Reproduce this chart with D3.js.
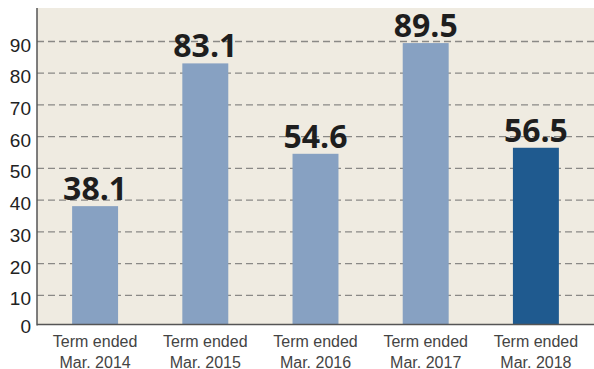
<!DOCTYPE html>
<html><head><meta charset="utf-8">
<script src="https://cdn.jsdelivr.net/npm/d3@7"></script>
<style>html,body{margin:0;padding:0;background:#fff;}svg{display:block;}</style>
</head><body>
<svg id="c" width="594" height="369"></svg>
<script>
const categories = ["Term ended\nMar. 2014","Term ended\nMar. 2015","Term ended\nMar. 2016","Term ended\nMar. 2017","Term ended\nMar. 2018"];
const values = [38.1, 83.1, 54.6, 89.5, 56.5];
const highlight = [false, false, false, false, true];
const yTicks = [0,10,20,30,40,50,60,70,80,90];

(function(){
const svg = d3.select("#c");
const W = 594, H = 369;
const mLeft = 37, mTop = 8, mBottom = 324.5;

svg.append("rect").attr("x", mLeft).attr("y", mTop).attr("width", W-mLeft).attr("height", mBottom-mTop).attr("fill", "#efebe1");

const y = d3.scaleLinear().domain([0, 90]).range([327, 41.5]);
const x = d3.scaleBand().domain(categories).range([40, 591]).paddingInner(0.583).paddingOuter(0.2915);

// grid
svg.append("g").selectAll("line").data(yTicks.filter(d=>d>0)).join("line")
  .attr("x1", mLeft).attr("x2", W).attr("y1", d=>y(d)).attr("y2", d=>y(d))
  .attr("stroke", "#8a8986").attr("stroke-width", 1.3).attr("stroke-dasharray", "7,4");

// y axis
const ya = d3.axisLeft(y).tickValues(yTicks).tickSize(0).tickPadding(6);
const yg = svg.append("g").attr("transform", `translate(${mLeft},0)`).call(ya);
yg.select(".domain").remove();
yg.selectAll("text").attr("font-family", "Liberation Sans, Arial, sans-serif").attr("font-size", 19).attr("fill", "#222").attr("dy", "0.5em");
yg.selectAll(".tick").filter(d=>d===0).select("text").attr("dy", "0.3em");

// bars
svg.append("g").selectAll("rect").data(values).join("rect")
  .attr("x", (d,i)=>x(categories[i])).attr("width", x.bandwidth())
  .attr("y", d=>y(d)).attr("height", d=>mBottom - y(d))
  .attr("fill", (d,i)=>highlight[i] ? "#1f5a8f" : "#87a1c2");

// value labels
svg.append("g").selectAll("text").data(values).join("text")
  .attr("x", (d,i)=>x(categories[i]) + x.bandwidth()/2).attr("y", d=>y(d) - 6)
  .attr("text-anchor", "middle").attr("font-family", "Open Sans, sans-serif").attr("font-weight", 700)
  .attr("font-size", 32).attr("fill", "#1e1e1e").text(d=>d.toFixed(1));

// axes lines
svg.append("line").attr("x1", mLeft).attr("x2", mLeft).attr("y1", mTop).attr("y2", mBottom+1).attr("stroke", "#555").attr("stroke-width", 1.5);
svg.append("line").attr("x1", mLeft).attr("x2", W).attr("y1", mBottom).attr("y2", mBottom).attr("stroke", "#555").attr("stroke-width", 1.5);

// x labels
const xa = d3.axisBottom(x).tickSize(0).tickPadding(0);
const xg = svg.append("g").attr("transform", `translate(0,${mBottom})`).call(xa);
xg.select(".domain").remove();
xg.selectAll("text").each(function(d){
  const t = d3.select(this); t.text(null).attr("y", 0).attr("dy", null);
  d.split("\n").forEach((s,i)=>{
    t.append("tspan").attr("x", 0).attr("y", 22 + i*21).text(s);
  });
}).attr("font-family", "Liberation Sans, Arial, sans-serif").attr("font-size", 16).attr("fill", "#444");
})();
</script>
</body></html>
